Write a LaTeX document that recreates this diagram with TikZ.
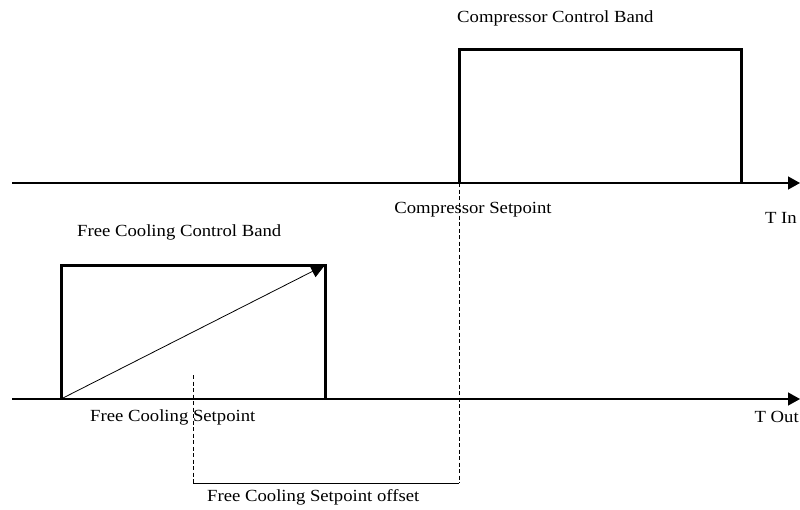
\documentclass[tikz,border=0pt]{standalone}
\usepackage{fontspec}
\setmainfont{Liberation Serif}[FakeStretch=1.1]
\usetikzlibrary{arrows.meta}
\begin{document}
\begin{tikzpicture}[x=1pt,y=-1pt,
  axis/.style={line width=1.4pt,-{Triangle[length=12pt,width=13pt]}},
  band/.style={line width=3pt,line join=miter},
  guide/.style={line width=0.8pt,dash pattern=on 4pt off 2.5pt},
  offsetline/.style={line width=0.8pt},
  lbl/.style={anchor=west,inner sep=0pt,font=\fontsize{17}{20}\selectfont}]
\useasboundingbox (0,0) rectangle (800,509);

% temperature axes
\coordinate (inL) at (12,183);
\coordinate (inR) at (800,183);
\coordinate (outL) at (12,399);
\coordinate (outR) at (800,399);
\draw[axis] (inL) -- (inR);
\draw[axis] (outL) -- (outR);

% compressor control band
\coordinate (cA) at (459,183);
\coordinate (cB) at (459,49);
\coordinate (cC) at (741,49);
\coordinate (cD) at (741,183);
\draw[band] (cA) -- (cB) -- (cC) -- (cD);

% free cooling control band
\coordinate (fA) at (61,399);
\coordinate (fB) at (61,265);
\coordinate (fC) at (325,265);
\coordinate (fD) at (325,399);
\draw[band] (fA) -- (fB) -- (fC) -- (fD);
\draw[line width=0.8pt,-{Triangle[length=14pt,width=13pt]}] (fA) -- (fC);

% setpoint offset bracket
\coordinate (sF) at (193,375);
\coordinate (sFb) at (193,483);
\coordinate (sC) at (459,183);
\coordinate (sCb) at (459,483);
\draw[guide] (sF) -- (sFb);
\draw[guide] (sC) -- (sCb);
\draw[offsetline] (sFb) -- (sCb);

% labels
\node[lbl] (tCB) at (457,18) {Compressor Control Band};
\node[lbl,anchor=center] (tCS) at (473,210) {Compressor Setpoint};
\node[lbl,anchor=east] (tIn) at (797,218) {T In};
\node[lbl] (tFB) at (77,232) {Free Cooling Control Band};
\node[lbl] (tFS) at (90,417) {Free Cooling Setpoint};
\node[lbl,anchor=east] (tOut) at (799,417) {T Out};
\node[lbl] (tOff) at (207,497) {Free Cooling Setpoint offset};
\end{tikzpicture}
\end{document}
